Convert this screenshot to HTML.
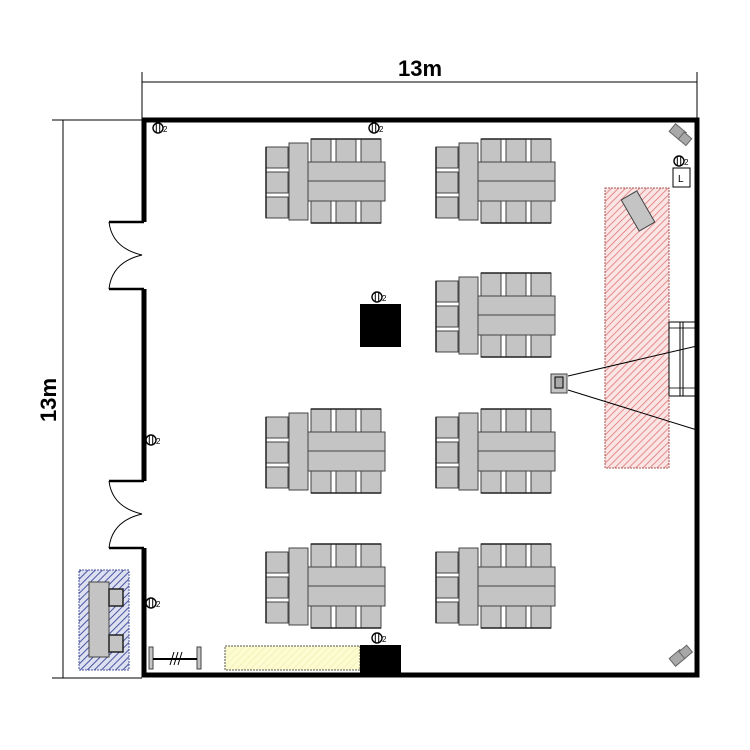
<!DOCTYPE html>
<html><head><meta charset="utf-8"><style>html,body{margin:0;padding:0;background:#fff}svg{display:block}</style></head>
<body>
<svg width="750" height="750" viewBox="0 0 750 750" xmlns="http://www.w3.org/2000/svg">
<defs>
<pattern id="red" width="5" height="5" patternUnits="userSpaceOnUse" patternTransform="rotate(45)">
<rect width="5" height="5" fill="#fbe4e4"/><line x1="0" y1="0" x2="0" y2="5" stroke="#d77" stroke-width="1.6"/></pattern>
<pattern id="blue" width="5" height="5" patternUnits="userSpaceOnUse" patternTransform="rotate(45)">
<rect width="5" height="5" fill="#dde0f0"/><line x1="0" y1="0" x2="0" y2="5" stroke="#4a55a0" stroke-width="2"/></pattern>
<pattern id="yel" width="5" height="5" patternUnits="userSpaceOnUse" patternTransform="rotate(45)">
<rect width="5" height="5" fill="#fdfbd0"/><line x1="0" y1="0" x2="0" y2="5" stroke="#ece7a8" stroke-width="1"/></pattern>
<g id="grp" stroke="#444" stroke-width="1">
<rect x="266" y="147" width="22" height="21" fill="#c4c4c4"/>
<rect x="266" y="172" width="22" height="21" fill="#c4c4c4"/>
<rect x="266" y="197" width="22" height="21" fill="#c4c4c4"/>
<rect x="311" y="139" width="20" height="23" fill="#c4c4c4"/>
<rect x="336" y="139" width="20" height="23" fill="#c4c4c4"/>
<rect x="361" y="139" width="20" height="23" fill="#c4c4c4"/>
<rect x="311" y="201" width="20" height="22" fill="#c4c4c4"/>
<rect x="336" y="201" width="20" height="22" fill="#c4c4c4"/>
<rect x="361" y="201" width="20" height="22" fill="#c4c4c4"/>
<rect x="308" y="162" width="77" height="39" fill="#c4c4c4"/>
<line x1="308" y1="181" x2="385" y2="181"/>
<rect x="289" y="143" width="19" height="77" fill="#c4c4c4"/>
<path d="M266 147 V218 M311 139 H381 M311 223 H381" stroke="#222" stroke-width="1.5" fill="none"/>
</g>
<g id="sen"><circle cx="0" cy="0" r="5" fill="#fff" stroke="#000" stroke-width="1.4"/><line x1="-1.7" y1="-4.5" x2="-1.7" y2="4.5" stroke="#000"/><line x1="1.7" y1="-4.5" x2="1.7" y2="4.5" stroke="#000"/><text x="5" y="4" font-family="Liberation Sans, sans-serif" font-size="8" fill="#000">2</text></g>
</defs>
<line x1="142" y1="82" x2="697" y2="82" stroke="#000" stroke-width="1"/>
<line x1="142" y1="72" x2="142" y2="120" stroke="#000"/>
<line x1="697" y1="72" x2="697" y2="120" stroke="#000"/>
<text x="420" y="76" text-anchor="middle" font-family="Liberation Sans, sans-serif" font-weight="bold" font-size="22">13m</text>
<line x1="52" y1="120" x2="142" y2="120" stroke="#000"/>
<line x1="63" y1="120" x2="63" y2="678" stroke="#000"/>
<line x1="52" y1="678" x2="142" y2="678" stroke="#000"/>
<text transform="translate(56,400) rotate(-90)" text-anchor="middle" font-family="Liberation Sans, sans-serif" font-weight="bold" font-size="22">13m</text>
<g stroke="#000" fill="none">
<path d="M144 222 V120 H697 V675 H144 V548" stroke-width="5"/>
<path d="M144 289 V481" stroke-width="5"/>
<path d="M144 222 H109 M109 289 H144 M144 481 H109 M109 548 H144" stroke-width="2.5"/>
<path d="M109 222 Q112 248 142 255 Q112 262 109 289" stroke-width="1"/>
<path d="M109 481 Q112 507 142 514 Q112 521 109 548" stroke-width="1"/>
</g>
<use href="#grp"/>
<use href="#grp" x="170"/>
<use href="#grp" x="170" y="134"/>
<use href="#grp" y="270"/>
<use href="#grp" x="170" y="270"/>
<use href="#grp" y="405"/>
<use href="#grp" x="170" y="405"/>
<rect x="360" y="304" width="41" height="43" fill="#000"/>
<rect x="605" y="188" width="64" height="280" fill="url(#red)" stroke="#a55" stroke-width="1" stroke-dasharray="2,1"/>
<rect x="629" y="193" width="18" height="36" fill="#c4c4c4" stroke="#444" transform="rotate(-30 638 211)"/>
<rect x="669" y="322" width="26" height="74" fill="#fff" stroke="#000"/>
<line x1="680" y1="322" x2="680" y2="396" stroke="#000"/><line x1="683" y1="322" x2="683" y2="396" stroke="#000"/>
<rect x="669" y="328" width="26" height="60" fill="none" stroke="#000" stroke-width="0.8"/>
<rect x="695" y="346" width="4" height="84" fill="#000"/>
<line x1="568" y1="376" x2="697" y2="346" stroke="#000"/>
<line x1="568" y1="390" x2="697" y2="430" stroke="#000"/>
<rect x="551" y="374" width="16" height="19" fill="#c4c4c4" stroke="#444"/>
<rect x="555" y="377" width="8" height="11" fill="#aaa" stroke="#000"/>
<rect x="673" y="168" width="17" height="19" fill="#fff" stroke="#000"/>
<text x="678" y="182" font-family="Liberation Sans, sans-serif" font-size="10">L</text>
<g transform="translate(680,134) rotate(40)" fill="#a8a8a8" stroke="#666"><rect x="-10" y="-5" width="14" height="10"/><rect x="2" y="-4" width="10" height="9"/></g>
<g transform="translate(680,656) rotate(-40)" fill="#a8a8a8" stroke="#666"><rect x="-10" y="-5" width="14" height="10"/><rect x="2" y="-4" width="10" height="9"/></g>
<rect x="79" y="570" width="50" height="100" fill="url(#blue)" stroke="#4a55a0" stroke-dasharray="2,1"/>
<rect x="89" y="582" width="20" height="75" fill="#c4c4c4" stroke="#444"/>
<rect x="109" y="589" width="14" height="17" fill="#c4c4c4" stroke="#222" stroke-width="1.5"/>
<rect x="109" y="635" width="14" height="17" fill="#c4c4c4" stroke="#222" stroke-width="1.5"/>
<g stroke="#444"><rect x="149" y="647" width="4" height="22" fill="#c4c4c4"/><rect x="197" y="647" width="4" height="22" fill="#c4c4c4"/>
<line x1="153" y1="659" x2="197" y2="659" stroke="#000" stroke-width="2"/>
<path d="M170 665 L174 652 M174 665 L178 652 M178 665 L182 652" stroke="#000"/></g>
<rect x="225" y="646" width="135" height="24" fill="url(#yel)" stroke="#555" stroke-dasharray="2,1"/>
<rect x="360" y="645" width="41" height="30" fill="#000"/>
<use href="#sen" x="158" y="128"/>
<use href="#sen" x="374" y="128"/>
<use href="#sen" x="377" y="297"/>
<use href="#sen" x="151" y="440"/>
<use href="#sen" x="151" y="603"/>
<use href="#sen" x="377" y="638"/>
<use href="#sen" x="679" y="161"/>
</svg>
</body></html>
